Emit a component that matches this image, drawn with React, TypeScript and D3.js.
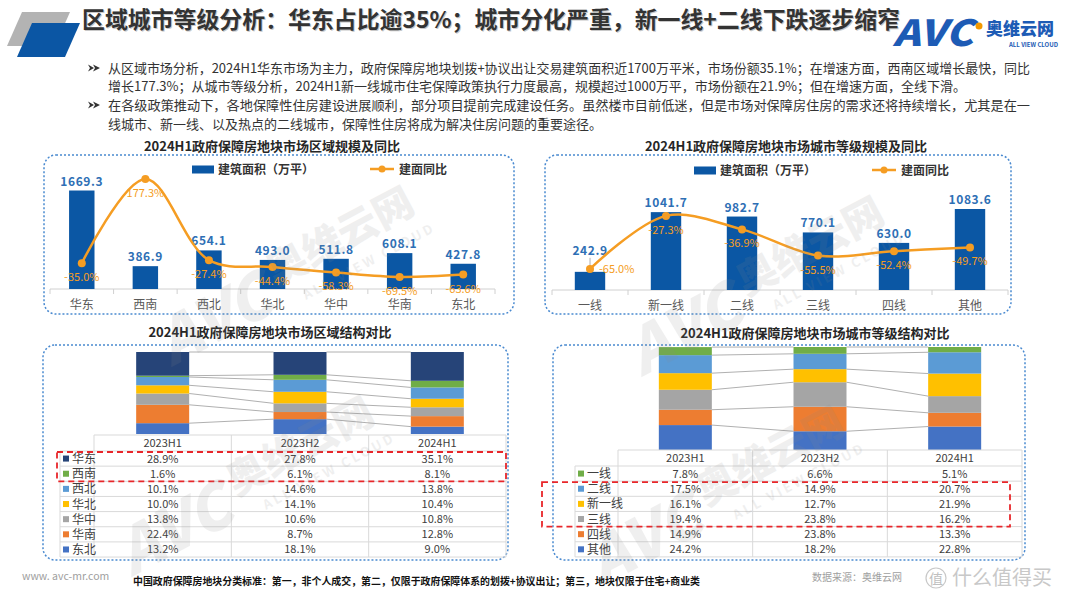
import React from 'react';
import * as d3 from 'd3';

// 区域规模及同比
const regions = ['华东', '西南', '西北', '华北', '华中', '华南', '东北'];
const regionArea = [1669.3, 386.9, 654.1, 493.0, 511.8, 608.1, 427.8];
const regionYoY = [-35.0, 177.3, -27.4, -44.4, -58.3, -69.5, -63.6];

// 城市等级规模及同比
const tiers = ['一线', '新一线', '二线', '三线', '四线', '其他'];
const tierArea = [242.9, 1041.7, 982.7, 770.1, 630.0, 1083.6];
const tierYoY = [-65.0, -27.3, -36.9, -55.5, -52.4, -49.7];

// 结构对比（表格顺序，自上而下）
const periods = ['2023H1', '2023H2', '2024H1'];
const regionRows = ['华东', '西南', '西北', '华北', '华中', '华南', '东北'];
const regionShare = [
  [28.9, 27.8, 35.1],
  [1.6, 6.1, 8.1],
  [10.1, 14.6, 13.8],
  [10.0, 14.1, 10.4],
  [13.8, 10.6, 10.8],
  [22.4, 8.7, 12.8],
  [13.2, 18.1, 9.0],
];
const tierRows = ['一线', '二线', '新一线', '三线', '四线', '其他'];
const tierShare = [
  [7.8, 6.6, 5.1],
  [17.5, 14.9, 20.7],
  [16.1, 12.7, 21.9],
  [19.4, 23.8, 16.2],
  [14.9, 23.8, 13.3],
  [24.2, 18.2, 22.8],
];

const regionColors = ['#264478', '#70ad47', '#5b9bd5', '#ffc000', '#a5a5a5', '#ed7d31', '#4472c4'];
const tierColors = ['#70ad47', '#5b9bd5', '#ffc000', '#a5a5a5', '#ed7d31', '#4472c4'];

const FONT = '"Noto Sans CJK SC", "Noto Sans", sans-serif';
const BAR = '#0b57a4';
const ORANGE = '#f59d23';

const Box = ({ x, y, w, h }) => (
  <rect x={x} y={y} width={w} height={h} rx={12} fill="none" stroke="#4a8ad0" strokeWidth={1.5} strokeDasharray="2 2" />
);

const Watermark = ({ x, y }) => (
  <g transform={`translate(${x},${y}) rotate(-28)`} fill="#8a8a8a" opacity={0.13} fontFamily={FONT}>
    <text x={-150} y={30} fontSize={62} fontWeight={900} fontStyle="italic">AVC</text>
    <text x={-20} y={8} fontSize={40} fontWeight={900}>奥维云网</text>
    <text x={0} y={34} fontSize={13} fontWeight={700} letterSpacing={3}>ALL VIEW CLOUD</text>
  </g>
);

const BarLine = ({ cats, area, yoy, range, base, barDomain, barTop, lineDomain, lineTop, legendX, sideLabels = [], liftLabels = [] }) => {
  const x = d3.scaleBand().domain(cats).range(range);
  const yb = d3.scaleLinear().domain(barDomain).range([base, barTop]);
  const yl = d3.scaleLinear().domain(lineDomain).range([base, lineTop]);
  const bw = x.bandwidth() * 0.4;
  const pts = cats.map((c, i) => [x(c) + x.bandwidth() / 2, yl(yoy[i])]);
  const path = d3.line().curve(d3.curveCatmullRom.alpha(0.5))(pts);
  const ly = base - 120;
  return (
    <g fontFamily={FONT}>
      {/* legend */}
      <rect x={legendX} y={ly - 3.5} width={22} height={8} fill={BAR} />
      <text x={legendX + 26} y={ly + 4.5} fontSize={12} fontWeight={700} fill="#333">建筑面积（万平）</text>
      <line x1={legendX + 178} x2={legendX + 202} y1={ly} y2={ly} stroke={ORANGE} strokeWidth={2.5} />
      <circle cx={legendX + 190} cy={ly} r={3.5} fill={ORANGE} />
      <text x={legendX + 207} y={ly + 4.5} fontSize={12} fontWeight={700} fill="#333">建面同比</text>
      {/* axis */}
      <line x1={range[0]} x2={range[1]} y1={base} y2={base} stroke="#d0d0d0" />
      {cats.map((c) => (
        <line key={'t' + c} x1={x(c)} x2={x(c)} y1={base} y2={base + 5} stroke="#d0d0d0" />
      ))}
      <line x1={range[1]} x2={range[1]} y1={base} y2={base + 5} stroke="#d0d0d0" />
      {cats.map((c) => (
        <text key={'l' + c} x={x(c) + x.bandwidth() / 2} y={base + 20} fontSize={12} fill="#595959" textAnchor="middle">{c}</text>
      ))}
      {/* bars */}
      {cats.map((c, i) => {
        const cx = x(c) + x.bandwidth() / 2;
        const lift = liftLabels.includes(i) ? 12 : 0;
        return (
          <g key={'b' + c}>
            <rect x={cx - bw / 2} y={yb(area[i])} width={bw} height={base - yb(area[i])} fill={BAR} />
            {lift > 0 && <line x1={cx} x2={cx} y1={yb(area[i]) - lift - 2} y2={yb(area[i]) - 1} stroke="#999" strokeWidth={0.8} />}
            <text x={cx} y={yb(area[i]) - 5 - lift} fontSize={12} fontWeight={700} fill="#2e6fb5" textAnchor="middle" letterSpacing={0.6}>{area[i].toFixed(1)}</text>
          </g>
        );
      })}
      {/* line */}
      <path d={path} fill="none" stroke={ORANGE} strokeWidth={2.5} />
      {pts.map((p, i) => (
        <circle key={'p' + i} cx={p[0]} cy={p[1]} r={4} fill={ORANGE} />
      ))}
      {pts.map((p, i) =>
        sideLabels.includes(i) ? (
          <text key={'v' + i} x={p[0] + 9} y={p[1] + 4} fontSize={11} fill={ORANGE}>{yoy[i].toFixed(1)}%</text>
        ) : (
          <text key={'v' + i} x={p[0]} y={p[1] + 18} fontSize={11} fill={ORANGE} textAnchor="middle">{yoy[i].toFixed(1)}%</text>
        )
      )}
    </g>
  );
};

const StackTable = ({ rows, shares, colors, labelX, colRange, barTopY, barBottomY, headerTop, headerH, rowH, dash }) => {
  const x = d3.scaleBand().domain(periods).range(colRange);
  const y = d3.scaleLinear().domain([0, 100]).range([barBottomY, barTopY]);
  const bw = 53;
  const data = periods.map((p, j) => {
    const o = { period: p };
    rows.forEach((r, i) => (o[r] = shares[i][j]));
    return o;
  });
  const keys = rows.slice().reverse();
  const series = d3.stack().keys(keys)(data);
  const cx = (p) => x(p) + x.bandwidth() / 2;
  const headerBottom = headerTop + headerH;
  const bottom = headerBottom + rowH * rows.length;
  return (
    <g fontFamily={FONT}>
      {/* series lines */}
      {series.map((s) =>
        s.slice(0, -1).map((d, j) => (
          <line key={s.key + j} x1={cx(periods[j]) + bw / 2} x2={cx(periods[j + 1]) - bw / 2} y1={y(d[1])} y2={y(s[j + 1][1])} stroke="#b0b0b0" strokeWidth={1} />
        ))
      )}
      {series.map((s) => {
        const color = colors[rows.indexOf(s.key)];
        return s.map((d, j) => (
          <rect key={s.key + 'r' + j} x={cx(periods[j]) - bw / 2} y={y(d[1])} width={bw} height={y(d[0]) - y(d[1])} fill={color} />
        ));
      })}
      {/* table grid */}
      <line x1={colRange[0]} x2={colRange[1]} y1={headerTop} y2={headerTop} stroke="#d9d9d9" />
      {rows.map((r, i) => (
        <line key={'h' + r} x1={labelX} x2={colRange[1]} y1={headerBottom + i * rowH} y2={headerBottom + i * rowH} stroke="#d9d9d9" />
      ))}
      <line x1={labelX} x2={colRange[1]} y1={bottom} y2={bottom} stroke="#d9d9d9" />
      <line x1={labelX} x2={labelX} y1={headerBottom} y2={bottom} stroke="#d9d9d9" />
      {periods.map((p) => (
        <line key={'v' + p} x1={x(p)} x2={x(p)} y1={headerTop} y2={bottom} stroke="#d9d9d9" />
      ))}
      <line x1={colRange[1]} x2={colRange[1]} y1={headerTop} y2={bottom} stroke="#d9d9d9" />
      {periods.map((p) => (
        <text key={'ht' + p} x={cx(p)} y={headerTop + headerH / 2 + 4} fontSize={11} fill="#404040" textAnchor="middle">{p}</text>
      ))}
      {rows.map((r, i) => {
        const ry = headerBottom + i * rowH + rowH / 2;
        return (
          <g key={'row' + r}>
            <rect x={labelX + 3} y={ry - 3} width={6} height={6} fill={colors[i]} />
            <text x={labelX + 12} y={ry + 4.5} fontSize={12} fill="#404040">{r}</text>
            {periods.map((p, j) => (
              <text key={p} x={cx(p)} y={ry + 4} fontSize={11} fill="#404040" textAnchor="middle">{shares[i][j].toFixed(1)}%</text>
            ))}
          </g>
        );
      })}
      <rect x={dash.x0} y={headerBottom + dash.r0 * rowH + 1} width={dash.x1 - dash.x0} height={(dash.r1 - dash.r0 + 1) * rowH - 1} fill="none" stroke="#e8262a" strokeWidth={1.8} strokeDasharray="6 4" />
    </g>
  );
};

const Bullet = ({ y }) => (
  <g fill="#333">
    <path d={`M88,${y - 3.5} L94,${y} L88,${y + 3.5} L90,${y} Z`} />
    <path d={`M93,${y - 3.5} L100,${y} L93,${y + 3.5} L95,${y} Z`} />
  </g>
);

export default function App() {
  const bodyStyle = { fontFamily: FONT, fontSize: 13, fill: '#333' };
  return (
    <svg width={1080} height={601} style={{ position: 'absolute', left: 0, top: 0, background: '#fff' }}>
      <rect width={1080} height={601} fill="#fff" />
      {/* header */}
      <polygon points="22,12 70,12 55,46 7,46" fill="#b3b3b3" />
      <polygon points="32,23 80,23 65,57 17,57" fill="#0b56a4" />
      <text x={83} y={29} fontFamily={FONT} fontSize={23} fontWeight={700} fill="#c8c8c8" textLength={818} lengthAdjust="spacingAndGlyphs">区域城市等级分析：华东占比逾35%；城市分化严重，新一线+二线下跌逐步缩窄</text>
      <text x={82} y={28} fontFamily={FONT} fontSize={23} fontWeight={700} fill="#333" textLength={818} lengthAdjust="spacingAndGlyphs">区域城市等级分析：华东占比逾35%；城市分化严重，新一线+二线下跌逐步缩窄</text>
      <g fontFamily={FONT}>
        <text x={893} y={46} fontSize={36} fontWeight={900} fontStyle="italic" fill="#1d5bb5" textLength={80} lengthAdjust="spacingAndGlyphs">AVC</text>
        <circle cx={979} cy={26} r={3.5} fill="#f39800" />
        <text x={986} y={35} fontSize={17} fontWeight={900} fill="#1d5bb5">奥维云网</text>
        <text x={1009} y={47} fontSize={6} fontWeight={700} fill="#1d5bb5">ALL VIEW CLOUD</text>
      </g>
      {/* bullets */}
      <Bullet y={68} />
      <Bullet y={105} />
      <g style={bodyStyle}>
        <text x={108} y={72.5} textLength={922} lengthAdjust="spacingAndGlyphs">从区域市场分析，2024H1华东市场为主力，政府保障房地块划拨+协议出让交易建筑面积近1700万平米，市场份额35.1%；在增速方面，西南区域增长最快，同比</text>
        <text x={108} y={91}>增长177.3%；从城市等级分析，2024H1新一线城市住宅保障政策执行力度最高，规模超过1000万平，市场份额在21.9%；但在增速方面，全线下滑。</text>
        <text x={108} y={109.5} textLength={922} lengthAdjust="spacingAndGlyphs">在各级政策推动下，各地保障性住房建设进展顺利，部分项目提前完成建设任务。虽然楼市目前低迷，但是市场对保障房住房的需求还将持续增长，尤其是在一</text>
        <text x={108} y={128.5}>线城市、新一线、以及热点的二线城市，保障性住房将成为解决住房问题的重要途径。</text>
      </g>
      {/* chart titles */}
      <g fontFamily={FONT} fontSize={13} fontWeight={700} fill="#262626" textAnchor="middle">
        <text x={272} y={151}>2024H1政府保障房地块市场区域规模及同比</text>
        <text x={786} y={151}>2024H1政府保障房地块市场城市等级规模及同比</text>
        <text x={270} y={337}>2024H1政府保障房地块市场区域结构对比</text>
        <text x={815} y={338}>2024H1政府保障房地块市场城市等级结构对比</text>
      </g>
      <Box x={44} y={155} w={470} h={159} />
      <Box x={545} y={155} w={466} h={159} />
      <Box x={43} y={345} w={465} h={215} />
      <Box x={553} y={345} w={472} h={215} />
      <BarLine cats={regions} area={regionArea} yoy={regionYoY} range={[50, 495]} base={289} barDomain={[0, 2000]} barTop={171} lineDomain={[-100, 200]} lineTop={170} legendX={192} />
      <BarLine cats={tiers} area={tierArea} yoy={tierYoY} range={[552, 1008]} base={290} barDomain={[0, 1200]} barTop={200.3} lineDomain={[-80, 0]} lineTop={177.5} legendX={694} sideLabels={[0]} liftLabels={[0]} />
      <StackTable rows={regionRows} shares={regionShare} colors={regionColors} labelX={60} colRange={[94, 506]} barTopY={352} barBottomY={434} headerTop={435} headerH={16} rowH={15.15} dash={{ x0: 57, x1: 506, r0: 0, r1: 1 }} />
      <StackTable rows={tierRows} shares={tierShare} colors={tierColors} labelX={575} colRange={[618, 1022]} barTopY={347} barBottomY={450} headerTop={450} headerH={16} rowH={15.15} dash={{ x0: 542, x1: 1010, r0: 1, r1: 3 }} />
      {/* watermarks */}
      <Watermark x={290} y={270} />
      <Watermark x={760} y={280} />
      <Watermark x={250} y={480} />
      <Watermark x={720} y={490} />
      {/* footer */}
      <g fontFamily={FONT}>
        <text x={22} y={580} fontSize={10.5} fill="#a0a0a0">www. avc-mr.com</text>
        <text x={133} y={585} fontSize={10} fontWeight={700} fill="#111" textLength={567} lengthAdjust="spacingAndGlyphs">中国政府保障房地块分类标准：第一，非个人成交，第二，仅限于政府保障体系的划拨+协议出让；第三，地块仅限于住宅+商业类</text>
        <text x={812} y={581} fontSize={10} fill="#a0a0a0">数据来源：奥维云网</text>
        <circle cx={936} cy={578} r={10} fill="none" stroke="#c8c8c8" strokeWidth={1.2} />
        <text x={936} y={584} fontSize={14} fill="#c0c0c0" textAnchor="middle">值</text>
        <text x={952} y={585} fontSize={20} fill="#c8c8c8">什么值得买</text>
      </g>
    </svg>
  );
}
